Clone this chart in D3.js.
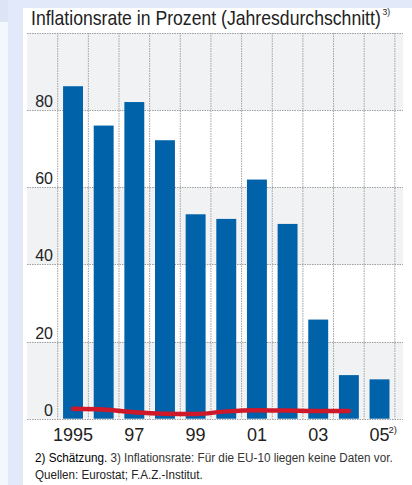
<!DOCTYPE html>
<html>
<head>
<meta charset="utf-8">
<script src="https://cdn.jsdelivr.net/npm/d3@7/dist/d3.min.js"></script>
<style>
  html, body { margin: 0; padding: 0; background: #fff; }
  svg { display: block; }
  text { font-family: "Liberation Sans Narrow", "Arial Narrow", "Liberation Sans", sans-serif; fill: #222; }
</style>
</head>
<body>
<svg id="chart" width="412" height="485"></svg>
<script>
// Inflation rate by year (bars) and EU-15 average (red line)
const years = [1995, 1996, 1997, 1998, 1999, 2000, 2001, 2002, 2003, 2004, 2005];
const inflation = [86.2, 76.0, 82.1, 72.2, 53.0, 51.8, 62.0, 50.5, 25.7, 11.3, 10.2];
const euYears = [1995, 1996, 1997, 1998, 1999, 2000, 2001, 2002, 2003, 2004];
const euInflation = [2.6, 2.4, 1.7, 1.3, 1.2, 1.9, 2.2, 2.1, 2.0, 2.0];
const yTicks = [0, 20, 40, 60, 80];
const gridValues = [0, 20, 40, 60, 80, 100];
const xLabels = ["1995", "", "97", "", "99", "", "01", "", "03", "", "05"];
const xLabelNotes = ["", "", "", "", "", "", "", "", "", "", "2)"];

const svg = d3.select("#chart");

// squeeze a text horizontally so it spans the given width
function fitWidth(textSel, x0, y0, width) {
  const w = textSel.node().getBBox().width;
  const k = width / w;
  textSel.attr("x", 0).attr("y", 0)
    .attr("transform", `translate(${x0},${y0}) scale(${k},1)`);
  return k;
}

// page frame
svg.append("rect").attr("x", 0).attr("y", 0).attr("width", 412).attr("height", 485).attr("fill", "#fff");
svg.append("rect").attr("x", 0).attr("y", 0).attr("width", 8).attr("height", 485).attr("fill", "#f4f7fd");
svg.append("rect").attr("x", 0).attr("y", 0).attr("width", 412).attr("height", 8).attr("fill", "#e2eafa");
svg.append("rect").attr("x", 0).attr("y", 0).attr("width", 8).attr("height", 22).attr("fill", "#dde5f4");
svg.append("rect").attr("x", 8).attr("y", 0).attr("width", 15).attr("height", 485).attr("fill", "#e1e9fa");

const plotLeft = 27, plotRight = 403;
const x = d3.scaleBand()
  .domain(years)
  .range([57.7, 57.7 + 30.65 * years.length])
  .paddingInner(0.35)
  .paddingOuter(0.175);
const y = d3.scaleLinear().domain([0, 100]).range([418.7, 33]);

// alternating bands
const bands = d3.pairs(gridValues);
svg.append("g").selectAll("rect")
  .data(bands)
  .join("rect")
  .attr("x", plotLeft)
  .attr("width", plotRight - plotLeft)
  .attr("y", d => y(d[1]))
  .attr("height", d => y(d[0]) - y(d[1]))
  .attr("fill", (d, i) => i % 2 === 0 ? "#f1f2f4" : "#ffffff");

// dotted grid
const grid = svg.append("g").attr("stroke", "#a0a0a0").attr("stroke-width", 1).attr("stroke-dasharray", "1.5,1");
grid.selectAll("line.h")
  .data(gridValues)
  .join("line")
  .attr("class", "h")
  .attr("x1", plotLeft).attr("x2", plotRight)
  .attr("y1", d => Math.round(y(d)) + 0.5).attr("y2", d => Math.round(y(d)) + 0.5);
const step = x.step();
const vLines = d3.range(years.length + 1).map(i => x.range()[0] + i * step);
grid.selectAll("line.v")
  .data(vLines)
  .join("line")
  .attr("class", "v")
  .attr("x1", d => d).attr("x2", d => d)
  .attr("y1", y(100)).attr("y2", y(0));

// bars
svg.append("g").selectAll("rect")
  .data(years.map((yr, i) => ({ yr, v: inflation[i] })))
  .join("rect")
  .attr("x", d => x(d.yr))
  .attr("width", x.bandwidth())
  .attr("y", d => y(d.v))
  .attr("height", d => y(0) - y(d.v))
  .attr("fill", "#0062a9");

// EU-15 line
const line = d3.line()
  .x((d, i) => x(euYears[i]) + x.bandwidth() / 2)
  .y(d => y(d))
  .curve(d3.curveMonotoneX);
svg.append("path")
  .datum(euInflation)
  .attr("d", line)
  .attr("fill", "none")
  .attr("stroke", "#d0182b")
  .attr("stroke-width", 4.5)
  .attr("stroke-linecap", "round");

// y tick labels
svg.append("g").selectAll("text")
  .data(yTicks)
  .join("text")
  .attr("x", 53)
  .attr("y", d => y(d) - 3)
  .attr("text-anchor", "end")
  .attr("font-size", 16)
  .text(d => d);

// x tick labels
const labelled = years.map((yr, i) => ({ yr, t: xLabels[i], n: xLabelNotes[i] }));
svg.append("g").selectAll("text")
  .data(labelled.filter(d => d.t))
  .join("text")
  .attr("x", d => x(d.yr) + x.bandwidth() / 2)
  .attr("y", 441)
  .attr("text-anchor", "middle")
  .attr("font-size", 18)
  .text(d => d.t);
svg.append("g").selectAll("text")
  .data(labelled.filter(d => d.n))
  .join("text")
  .attr("x", d => x(d.yr) + x.bandwidth() / 2 + 9)
  .attr("y", 433)
  .attr("font-size", 9.5)
  .text(d => d.n);

// title
const title = svg.append("text")
  .attr("font-size", 20)
  .text("Inflationsrate in Prozent (Jahresdurchschnitt)");
fitWidth(title, 31, 25, 350);
svg.append("text")
  .attr("x", 382.5).attr("y", 15)
  .attr("font-size", 8.5)
  .text("3)");

// footnotes
const f1 = svg.append("text").attr("font-size", 13.5);
f1.append("tspan").attr("fill", "#000").text("2) Schätzung.");
f1.append("tspan").attr("fill", "#333").text(" 3) Inflationsrate: Für die EU-10 liegen keine Daten vor.");
fitWidth(f1, 35, 462, 358);
const f2 = svg.append("text")
  .attr("font-size", 13.5)
  .attr("fill", "#333")
  .text("Quellen: Eurostat; F.A.Z.-Institut.");
fitWidth(f2, 35, 479, 168);
</script>
</body>
</html>
